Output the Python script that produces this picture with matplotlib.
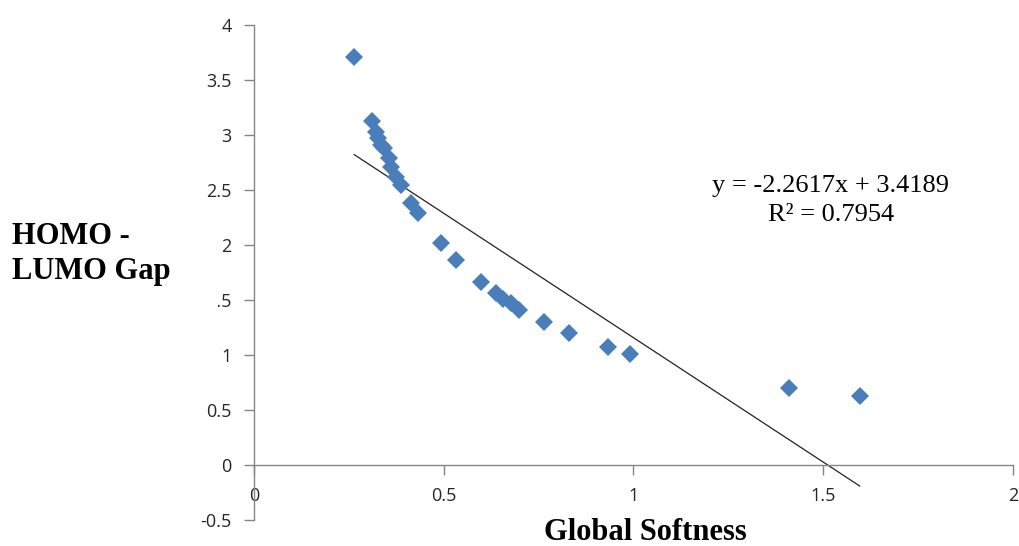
import matplotlib
matplotlib.use("Agg")
import matplotlib.pyplot as plt
from matplotlib.patches import Rectangle
import numpy as np

# Data
softness = [0.264, 0.312, 0.321, 0.326, 0.334, 0.343, 0.355, 0.361, 0.374, 0.387,
            0.413, 0.433, 0.493, 0.532, 0.598, 0.638, 0.655, 0.677, 0.699, 0.763,
            0.831, 0.932, 0.991, 1.41, 1.596]
gap = [3.71, 3.13, 3.03, 2.97, 2.91, 2.88, 2.79, 2.71, 2.62, 2.55,
       2.38, 2.29, 2.02, 1.86, 1.66, 1.56, 1.51, 1.47, 1.41, 1.30,
       1.20, 1.07, 1.01, 0.70, 0.63]
slope = -2.2617
intercept = 3.4189
r2 = 0.7954
x_ticks = [0, 0.5, 1, 1.5, 2]
x_tick_labels = ["0", "0.5", "1", "1.5", "2"]
y_ticks = [-0.5, 0, 0.5, 1, 1.5, 2, 2.5, 3, 3.5, 4]
y_tick_labels = ["-0.5", "0", "0.5", "1", "1.5", "2", "2.5", "3", "3.5", "4"]

W, H = 1020, 546
fig = plt.figure(figsize=(W / 100, H / 100), dpi=100)
ax = fig.add_axes([254 / W, 1 - 520 / H, (1013 - 254) / W, (520 - 25) / H])

ax.set_xlim(0, 2)
ax.set_ylim(-0.5, 4)

ax.plot(softness, gap, linestyle="none", marker="D", markersize=9.5,
        color="#4a7ebb", markeredgewidth=0, zorder=3)

xs = np.array([min(softness), max(softness)])
ax.plot(xs, slope * xs + intercept, color="#222222", linewidth=0.9, zorder=2)

spine_c = "#868686"
for s in ["top", "right"]:
    ax.spines[s].set_visible(False)
ax.spines["bottom"].set_position(("data", 0))
ax.spines["bottom"].set_color(spine_c)
ax.spines["left"].set_color(spine_c)
ax.spines["bottom"].set_linewidth(1.0)
ax.spines["left"].set_linewidth(1.0)

ax.set_xticks(x_ticks)
ax.set_xticklabels(x_tick_labels)
ax.set_yticks(y_ticks)
ax.set_yticklabels(y_tick_labels)
ax.tick_params(axis="both", direction="out", length=7, width=1.0, color=spine_c,
               labelsize=13, labelcolor="#262626")
ax.tick_params(axis="x", pad=9)
ax.tick_params(axis="y", pad=9)
for lab in ax.get_xticklabels() + ax.get_yticklabels():
    lab.set_fontfamily("Open Sans")

# Trendline equation
ax.text(831 / W, 1 - 186 / H, f"y = {slope}x + {intercept}", transform=fig.transFigure,
        ha="center", va="center", fontsize=19, fontfamily="Liberation Serif")
ax.text(831 / W, 1 - 215 / H, f"R² = {r2}", transform=fig.transFigure,
        ha="center", va="center", fontsize=19, fontfamily="Liberation Serif")

# Axis titles (y title box covers part of a tick label, as in the reference)
fig.patches.append(Rectangle((0, 1 - 312 / H), 218 / W, (312 - 212) / H,
                             transform=fig.transFigure, facecolor="white",
                             edgecolor="none", zorder=5))
fig.text(12 / W, 1 - 237 / H, "HOMO -", ha="left", va="center", fontsize=22,
         fontweight="bold", fontfamily="Liberation Serif", zorder=6)
fig.text(12 / W, 1 - 271 / H, "LUMO Gap", ha="left", va="center", fontsize=22,
         fontweight="bold", fontfamily="Liberation Serif", zorder=6)
fig.text(645 / W, 1 - 533 / H, "Global Softness", ha="center", va="center",
         fontsize=22, fontweight="bold", fontfamily="Liberation Serif")

fig.savefig("out.png", dpi=100)
